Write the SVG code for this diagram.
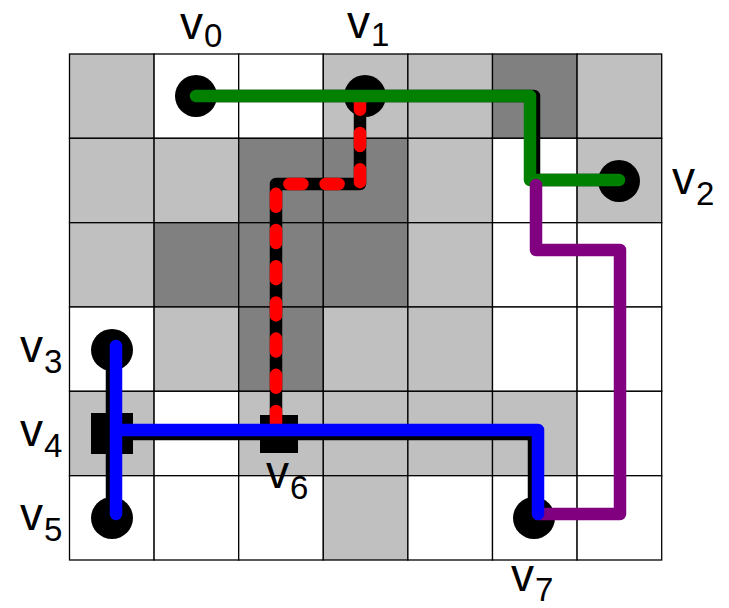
<svg xmlns="http://www.w3.org/2000/svg" width="729" height="608" viewBox="0 0 729 608">
<style>
.c{stroke:#000;stroke-width:1.3}
.w{fill:#fff}.l{fill:#c0c0c0}.d{fill:#808080}
.lbl{font-family:"Liberation Sans",Arial,sans-serif;font-size:46px;fill:#000}
.sub{font-size:33px}
.ln{fill:none;stroke-width:12.5;stroke-linecap:round;stroke-linejoin:round}
</style>
<rect width="729" height="608" fill="#fff"/>
<g id="grid">
<rect class="c l" x="69.5" y="54" width="84.6" height="84.3"/>
<rect class="c w" x="154.1" y="54" width="84.6" height="84.3"/>
<rect class="c w" x="238.7" y="54" width="84.6" height="84.3"/>
<rect class="c l" x="323.3" y="54" width="84.6" height="84.3"/>
<rect class="c l" x="407.9" y="54" width="84.6" height="84.3"/>
<rect class="c d" x="492.5" y="54" width="84.6" height="84.3"/>
<rect class="c l" x="577.1" y="54" width="84.6" height="84.3"/>
<rect class="c l" x="69.5" y="138.3" width="84.6" height="84.4"/>
<rect class="c l" x="154.1" y="138.3" width="84.6" height="84.4"/>
<rect class="c d" x="238.7" y="138.3" width="84.6" height="84.4"/>
<rect class="c d" x="323.3" y="138.3" width="84.6" height="84.4"/>
<rect class="c l" x="407.9" y="138.3" width="84.6" height="84.4"/>
<rect class="c w" x="492.5" y="138.3" width="84.6" height="84.4"/>
<rect class="c l" x="577.1" y="138.3" width="84.6" height="84.4"/>
<rect class="c l" x="69.5" y="222.7" width="84.6" height="84.3"/>
<rect class="c d" x="154.1" y="222.7" width="84.6" height="84.3"/>
<rect class="c d" x="238.7" y="222.7" width="84.6" height="84.3"/>
<rect class="c d" x="323.3" y="222.7" width="84.6" height="84.3"/>
<rect class="c l" x="407.9" y="222.7" width="84.6" height="84.3"/>
<rect class="c w" x="492.5" y="222.7" width="84.6" height="84.3"/>
<rect class="c w" x="577.1" y="222.7" width="84.6" height="84.3"/>
<rect class="c w" x="69.5" y="307" width="84.6" height="84.3"/>
<rect class="c l" x="154.1" y="307" width="84.6" height="84.3"/>
<rect class="c d" x="238.7" y="307" width="84.6" height="84.3"/>
<rect class="c l" x="323.3" y="307" width="84.6" height="84.3"/>
<rect class="c l" x="407.9" y="307" width="84.6" height="84.3"/>
<rect class="c w" x="492.5" y="307" width="84.6" height="84.3"/>
<rect class="c w" x="577.1" y="307" width="84.6" height="84.3"/>
<rect class="c l" x="69.5" y="391.3" width="84.6" height="84.4"/>
<rect class="c w" x="154.1" y="391.3" width="84.6" height="84.4"/>
<rect class="c l" x="238.7" y="391.3" width="84.6" height="84.4"/>
<rect class="c l" x="323.3" y="391.3" width="84.6" height="84.4"/>
<rect class="c l" x="407.9" y="391.3" width="84.6" height="84.4"/>
<rect class="c l" x="492.5" y="391.3" width="84.6" height="84.4"/>
<rect class="c w" x="577.1" y="391.3" width="84.6" height="84.4"/>
<rect class="c w" x="69.5" y="475.7" width="84.6" height="84.3"/>
<rect class="c w" x="154.1" y="475.7" width="84.6" height="84.3"/>
<rect class="c w" x="238.7" y="475.7" width="84.6" height="84.3"/>
<rect class="c l" x="323.3" y="475.7" width="84.6" height="84.3"/>
<rect class="c w" x="407.9" y="475.7" width="84.6" height="84.3"/>
<rect class="c w" x="492.5" y="475.7" width="84.6" height="84.3"/>
<rect class="c w" x="577.1" y="475.7" width="84.6" height="84.3"/>
</g>
<g id="v0"><circle cx="196" cy="96" r="21"/><text class="lbl" x="180" y="39">v<tspan class="sub" dx="1" dy="8">0</tspan></text></g>
<g id="v1"><circle cx="365" cy="96" r="21"/><text class="lbl" x="347" y="38">v<tspan class="sub" dx="1" dy="8">1</tspan></text></g>
<g id="v2"><circle cx="619" cy="181" r="21"/><text class="lbl" x="672" y="194">v<tspan class="sub" dx="1" dy="11">2</tspan></text></g>
<g id="v3"><circle cx="112" cy="350" r="21"/><text class="lbl" x="20" y="362">v<tspan class="sub" dx="1" dy="11">3</tspan></text></g>
<g id="v4"><rect x="91" y="413" width="42" height="41"/><text class="lbl" x="20" y="446">v<tspan class="sub" dx="1" dy="11">4</tspan></text></g>
<g id="v5"><circle cx="112" cy="518" r="21"/><text class="lbl" x="20" y="530">v<tspan class="sub" dx="1" dy="11">5</tspan></text></g>
<g id="v6"><rect x="260" y="415" width="38" height="38"/><text class="lbl" x="266" y="488">v<tspan class="sub" dx="1" dy="11">6</tspan></text></g>
<g id="v7"><circle cx="534" cy="518" r="21"/><text class="lbl" x="511" y="591">v<tspan class="sub" dx="1" dy="10">7</tspan></text></g>
<g id="connectors">
<path class="ln" stroke="#000" d="M196,96 H534 V180 H619"/>
<path class="ln" stroke="#000" d="M112,350 V518 M112,434 H534 V518"/>
<path class="ln" stroke="#000" stroke-width="14" d="M360,100 V184 H276 V438"/>
<path class="ln" stroke="#f00" stroke-width="11" stroke-dasharray="13 23.2" stroke-dashoffset="3.2" d="M360,100 V184 H276 V438"/>
<path class="ln" stroke="#008000" d="M196,96 H530 V180 H619"/>
<path class="ln" stroke="#800080" d="M536,185 V250 H620 V514 H538"/>
<path class="ln" stroke="#00f" d="M116,346 V514 M116,430 H538 V514"/>
</g>
</svg>
